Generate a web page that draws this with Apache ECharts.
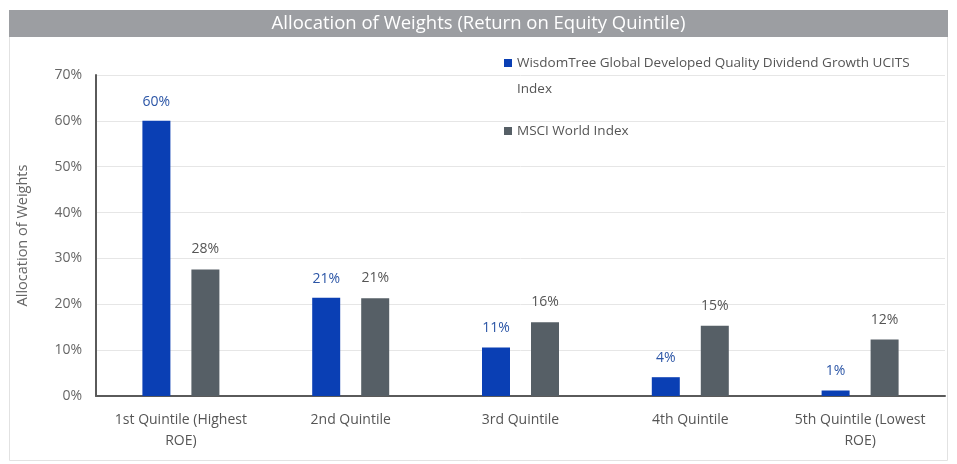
<!DOCTYPE html>
<html>
<head>
<meta charset="utf-8">
<script src="https://cdn.jsdelivr.net/npm/echarts@6/dist/echarts.min.js"></script>
<style>
    html, body { margin: 0; padding: 0; background: #fff; }
    #chart { width: 957px; height: 464px; }
</style>
</head>
<body>
<div id="chart"></div>
<script>
// 数据
var categories = ["1st Quintile (Highest\nROE)", "2nd Quintile", "3rd Quintile", "4th Quintile", "5th Quintile (Lowest\nROE)"];
var seriesNames = ["WisdomTree Global Developed Quality Dividend Growth UCITS Index", "MSCI World Index"];
var wisdomTree = [60, 21.4, 10.6, 4.1, 1.2];
var msciWorld = [27.6, 21.3, 16.1, 15.3, 12.3];
var yTicks = [0, 10, 20, 30, 40, 50, 60, 70];

(function () {
    var myChart = echarts.init(document.getElementById("chart"));
    var font = "'Open Sans', sans-serif";

    var option = {
        animation: false,
        textStyle: { fontFamily: font },
        graphic: [
            {
                type: "rect",
                shape: { x: 9.5, y: 10.5, width: 938, height: 450 },
                style: { fill: "none", stroke: "#e2e2e2", lineWidth: 1 },
                z: -1
            },
            {
                type: "rect",
                shape: { x: 9, y: 10, width: 939, height: 27 },
                style: { fill: "#9c9ea2" },
                z: 0
            }
        ],
        title: {
            text: "Allocation of Weights (Return on Equity Quintile)",
            left: "center",
            top: 14,
            padding: 0,
            textStyle: { color: "#fff", fontSize: 18.5, fontWeight: "normal", fontFamily: font },
            z: 5
        },
        legend: [
            {
                data: [seriesNames[0]],
                left: 504,
                top: 24,
                padding: 0,
                itemWidth: 8,
                itemHeight: 8,
                icon: "rect",
                // 空行让图标对齐第一行
                formatter: function (name) {
                    return "\n" + name.replace(" UCITS ", " UCITS\n");
                },
                textStyle: { color: "#555", fontSize: 13.5, lineHeight: 26, fontFamily: font }
            },
            {
                data: [seriesNames[1]],
                left: 504,
                top: 124,
                padding: 0,
                itemWidth: 8,
                itemHeight: 8,
                icon: "rect",
                textStyle: { color: "#555", fontSize: 13.5, fontFamily: font }
            }
        ],
        grid: {
            left: 96,
            right: 12,
            top: 75,
            bottom: 68
        },
        xAxis: {
            type: "category",
            data: categories,
            axisLine: { lineStyle: { color: "#5a5a5a", width: 2 } },
            axisTick: { show: false },
            axisLabel: { color: "#555", fontSize: 14, margin: 14, lineHeight: 21, interval: 0 }
        },
        yAxis: {
            type: "value",
            min: yTicks[0],
            max: yTicks[yTicks.length - 1],
            interval: 10,
            name: "Allocation of Weights",
            nameLocation: "middle",
            nameGap: 66,
            nameTextStyle: { color: "#666", fontSize: 14.5 },
            axisLine: { show: true, lineStyle: { color: "#5a5a5a", width: 2 } },
            axisTick: { show: false },
            axisLabel: { color: "#666", fontSize: 14, margin: 14, formatter: "{value}%" },
            splitLine: { lineStyle: { color: "#e6e6e6" } }
        },
        series: [
            {
                name: seriesNames[0],
                type: "bar",
                data: wisdomTree,
                barWidth: 28,
                barGap: "75%",
                itemStyle: { color: "#0a3fb4" },
                label: {
                    show: true,
                    position: "top",
                    distance: 12,
                    color: "#2b55a6",
                    fontSize: 14,
                    formatter: function (p) { return Math.round(p.value) + "%"; }
                }
            },
            {
                name: seriesNames[1],
                type: "bar",
                data: msciWorld,
                barWidth: 28,
                barGap: "75%",
                itemStyle: { color: "#565f66" },
                label: {
                    show: true,
                    position: "top",
                    distance: 13,
                    color: "#555",
                    fontSize: 14,
                    formatter: function (p) { return Math.round(p.value) + "%"; }
                }
            }
        ]
    };

    myChart.setOption(option);
    window.addEventListener("resize", function () {
        myChart.resize();
    });
})();
</script>
</body>
</html>
